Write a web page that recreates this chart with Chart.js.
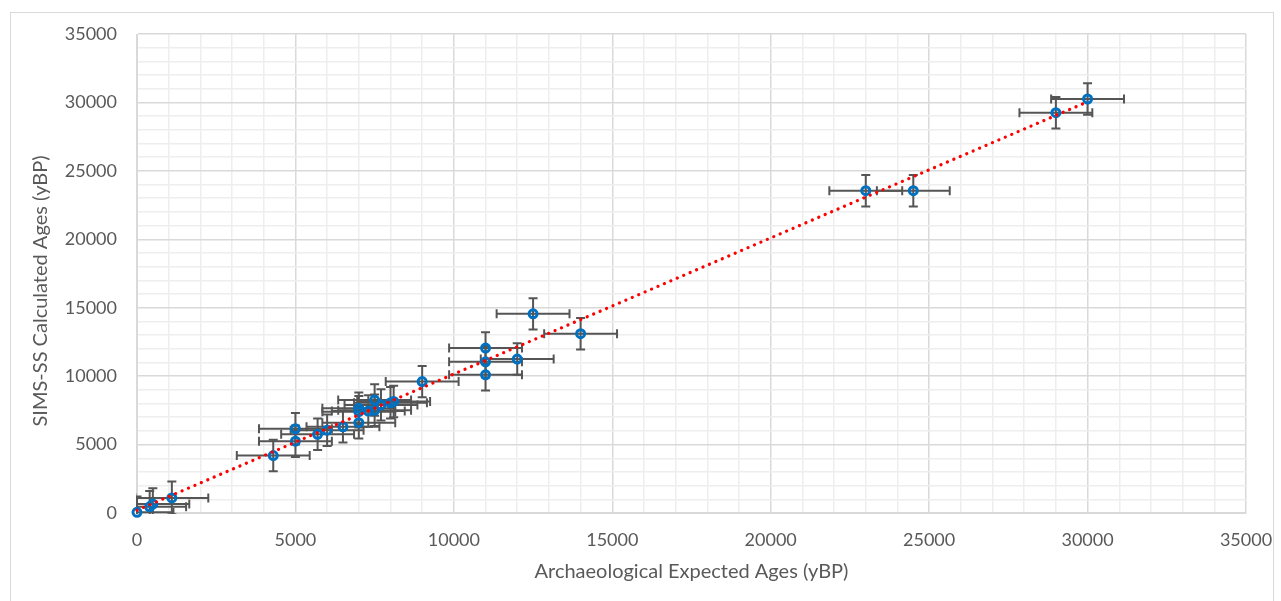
<!DOCTYPE html>
<html>
<head>
<meta charset="utf-8">
<script src="https://cdn.jsdelivr.net/npm/chart.js@4.4.1/dist/chart.umd.min.js"></script>
<style>
  html, body { margin: 0; padding: 0; background: #fff; }
  #wrap { position: relative; width: 1281px; height: 601px; }
</style>
</head>
<body>
<div id="wrap"><canvas id="ageChart"></canvas></div>
<script>
// archaeological expected ages (x) vs SIMS-SS calculated ages (y)
const expectedAges   = [0, 400, 500, 1100, 4300, 5000, 5000, 5700, 6000, 6500, 7000, 7000, 7000, 7300, 7500, 7500, 7700, 8000, 8100, 9000, 11000, 11000, 11000, 12000, 12500, 14000, 23000, 24500, 29000, 30000];
const calculatedAges = [50, 450, 650, 1100, 4200, 5250, 6150, 5750, 6050, 6300, 6600, 7400, 7650, 7450, 8250, 7500, 7900, 8050, 8150, 9600, 12050, 11050, 10100, 11250, 14550, 13100, 23550, 23550, 29250, 30250];
// ± error bar half-widths
const expectedErr    = [1150, 1150, 1150, 1150, 1150, 1150, 1150, 1150, 1150, 1150, 1150, 1150, 1150, 1150, 1150, 1150, 1150, 1150, 1150, 1150, 1150, 1150, 1150, 1150, 1150, 1150, 1150, 1150, 1150, 1150];
const calculatedErr  = [1150, 1150, 1150, 1200, 1150, 1150, 1150, 1150, 1150, 1150, 1150, 1150, 1150, 1150, 1150, 1150, 1150, 1150, 1150, 1150, 1150, 1150, 1150, 1150, 1150, 1150, 1150, 1150, 1150, 1150];
// axis tick labels (shared by both axes), minor grid every 1000
const axisTicks = [0, 5000, 10000, 15000, 20000, 25000, 30000, 35000];
const minorStep = 1000;
const xTitle = "Archaeological Expected Ages (yBP)";
const yTitle = "SIMS-SS Calculated Ages (yBP)";

const TEXT = "#595959";
const FONT = "Lato, 'Open Sans', sans-serif";

// linear trendline over the data range
function linearFit(xs, ys) {
  const n = xs.length;
  const mx = xs.reduce((a, b) => a + b, 0) / n;
  const my = ys.reduce((a, b) => a + b, 0) / n;
  let sxy = 0, sxx = 0;
  xs.forEach((x, i) => { sxy += (x - mx) * (ys[i] - my); sxx += (x - mx) * (x - mx); });
  const slope = sxy / sxx;
  return { slope, intercept: my - slope * mx };
}
const fit = linearFit(expectedAges, calculatedAges);
const xMin = Math.min(...expectedAges), xMax = Math.max(...expectedAges);
const trendPoints = [xMin, xMax].map(x => ({ x, y: fit.slope * x + fit.intercept }));

// outer chart frame + y axis title (Excel puts it a bit below the middle)
const framePlugin = {
  id: "frame",
  beforeDraw(chart) {
    const ctx = chart.ctx;
    ctx.save();
    ctx.fillStyle = "#fff";
    ctx.fillRect(0, 0, chart.width, chart.height);
    ctx.strokeStyle = "#d9d9d9";
    ctx.lineWidth = 1;
    ctx.strokeRect(10.5, 12.5, 1263, 620);
    ctx.restore();
  },
  afterDraw(chart) {
    const ctx = chart.ctx;
    ctx.save();
    ctx.translate(41, 291);
    ctx.rotate(-Math.PI / 2);
    ctx.fillStyle = TEXT;
    ctx.font = "20px " + FONT;
    ctx.textAlign = "center";
    ctx.textBaseline = "middle";
    ctx.fillText(yTitle, 0, 0);
    ctx.restore();
  }
};

// x and y error bars with caps, under the markers
const errorBarPlugin = {
  id: "errorBars",
  beforeDatasetsDraw(chart) {
    const { ctx, chartArea, scales: { x, y } } = chart;
    const cap = 4.5;
    ctx.save();
    ctx.beginPath();
    ctx.rect(chartArea.left - 1, chartArea.top, chartArea.width + 1, chartArea.height + 1);
    ctx.clip();
    ctx.strokeStyle = "#555555";
    ctx.lineWidth = 2;
    expectedAges.forEach((ex, i) => {
      const cy = calculatedAges[i];
      const px = x.getPixelForValue(ex), py = y.getPixelForValue(cy);
      const x0 = x.getPixelForValue(ex - expectedErr[i]), x1 = x.getPixelForValue(ex + expectedErr[i]);
      const y0 = y.getPixelForValue(cy - calculatedErr[i]), y1 = y.getPixelForValue(cy + calculatedErr[i]);
      ctx.beginPath();
      ctx.moveTo(x0, py); ctx.lineTo(x1, py);
      ctx.moveTo(x0, py - cap); ctx.lineTo(x0, py + cap);
      ctx.moveTo(x1, py - cap); ctx.lineTo(x1, py + cap);
      ctx.moveTo(px, y0); ctx.lineTo(px, y1);
      ctx.moveTo(px - cap, y0); ctx.lineTo(px + cap, y0);
      ctx.moveTo(px - cap, y1); ctx.lineTo(px + cap, y1);
      ctx.stroke();
    });
    ctx.restore();
  }
};

function axisOptions(isX) {
  return {
    type: "linear",
    min: axisTicks[0],
    max: axisTicks[axisTicks.length - 1],
    border: { color: "#d9d9d9", width: 1 },
    grid: {
      drawTicks: false,
      color: c => (axisTicks.includes(c.tick.value) ? "#d9d9d9" : "#eeeeee"),
      lineWidth: 1.5
    },
    ticks: {
      stepSize: minorStep,
      autoSkip: false,
      maxRotation: 0,
      padding: isX ? 16 : 20,
      color: TEXT,
      font: { family: FONT, size: 18 },
      callback: v => (axisTicks.includes(v) ? String(v) : "")
    },
    title: {
      display: isX,
      text: xTitle,
      color: TEXT,
      font: { family: FONT, size: 20 },
      padding: { top: 4, bottom: 4 }
    },
    // fix the plot box to Excel's position; ignore label overhang
    afterFit: isX
      ? s => { s.height = 75; s.paddingLeft = 0; s.paddingRight = 0; }
      : s => { s.width = 110; s.paddingTop = 0; s.paddingBottom = 0; }
  };
}

new Chart(document.getElementById("ageChart"), {
  type: "scatter",
  data: {
    datasets: [
      {
        label: "Trend",
        type: "line",
        data: trendPoints,
        borderColor: "#ff0000",
        borderWidth: 3.2,
        borderDash: [0.1, 6.9],
        borderCapStyle: "round",
        pointRadius: 0,
        fill: false,
        clip: 10,
        order: 0
      },
      {
        label: "Samples",
        data: expectedAges.map((x, i) => ({ x, y: calculatedAges[i] })),
        pointRadius: 4,
        pointBorderWidth: 3,
        pointBorderColor: "#0070c0",
        pointBackgroundColor: "rgba(0,0,0,0)",
        clip: 10,
        order: 1
      }
    ]
  },
  options: {
    responsive: true,
    maintainAspectRatio: false,
    animation: false,
    layout: { padding: { left: 27, right: 35, top: 34, bottom: 13 } },
    plugins: { legend: { display: false }, tooltip: { enabled: false } },
    scales: {
      x: axisOptions(true),
      y: axisOptions(false)
    }
  },
  plugins: [framePlugin, errorBarPlugin]
});
</script>
</body>
</html>
